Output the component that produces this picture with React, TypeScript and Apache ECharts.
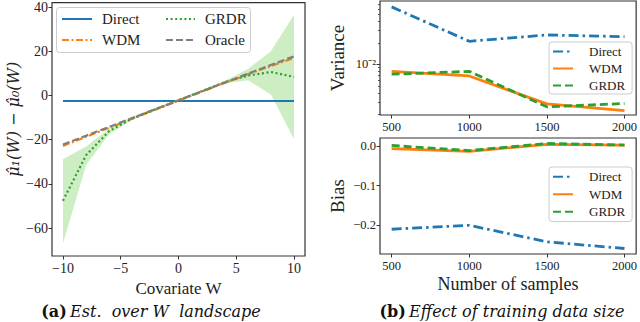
import React, { useEffect, useRef } from 'react';
import * as echarts from 'echarts';

// ---- Panel (a): estimate over W landscape ----
const covariateW = [-10, -8, -6, -4, -2, 0, 2, 4, 6, 8, 10];
const directEst = [-2.5, -2.5, -2.5, -2.5, -2.5, -2.5, -2.5, -2.5, -2.5, -2.5, -2.5];
const wdmEst = [-22.8, -18.7, -14.6, -10.5, -6.4, -2.3, 1.7, 5.7, 9.6, 13.3, 17.0];
const grdrEst = [-47.6, -27.0, -16.1, -10.4, -6.3, -2.2, 1.9, 6.0, 9.0, 10.6, 8.4];
const oracleEst = [-22.2, -18.2, -14.2, -10.2, -6.2, -2.2, 1.8, 5.8, 9.8, 13.8, 17.7];
const grdrLower = [-67.0, -31.5, -17.5, -11.0, -6.8, -2.6, 1.5, 5.4, 6.9, 0.4, -19.8];
const grdrUpper = [-28.8, -23.1, -15.0, -9.6, -5.7, -1.8, 2.3, 6.6, 12.0, 20.0, 36.5];
const leftXTicks = [-10, -5, 0, 5, 10];
const leftYTicks = [-60, -40, -20, 0, 20, 40];

// ---- Panel (b): effect of training data size ----
const sampleSizes = [500, 1000, 1500, 2000];
const varDirect = [0.064, 0.0211, 0.0259, 0.0245];
const varWDM = [0.008, 0.0069, 0.0028, 0.00225];
const varGRDR = [0.0073, 0.008, 0.00255, 0.00284];
const biasDirect = [-0.211, -0.201, -0.243, -0.26];
const biasWDM = [-0.006, -0.013, 0.005, 0.003];
const biasGRDR = [0.002, -0.011, 0.007, 0.003];
const sampleTicks = [500, 1000, 1500, 2000];
const varMajorTicks = [0.01];
const varMinorTicks = [0.002, 0.003, 0.004, 0.005, 0.006, 0.007, 0.008, 0.009, 0.02, 0.03, 0.04, 0.05, 0.06, 0.07];
const biasTicks = [-0.2, -0.1, 0.0];

const SERIF = 'Liberation Serif';
const CAPTION_FONT = 'DejaVu Serif';
const BLUE = '#1f77b4';
const ORANGE = '#ff7f0e';
const GREEN = '#2ca02c';
const GRAY = '#7f7f7f';

const pairs = (xs: number[], ys: number[]) => xs.map((x, i) => [x, ys[i]]);
const minus = (s: string) => s.replace('-', '\u2212');

export default function App() {
  const ref = useRef<HTMLDivElement>(null);

  useEffect(() => {
    if (!ref.current) return;
    const chart = echarts.init(ref.current, null, { renderer: 'svg' });

    const frame = { show: true, borderColor: '#333', borderWidth: 1.2, backgroundColor: 'transparent' };
    const tickStyle = { show: true, inside: false, length: 3.5, lineStyle: { color: '#333', width: 1 } };
    const noLine = { show: false, onZero: false };

    const legendCommon = {
      orient: 'vertical', selectedMode: false,
      itemStyle: { opacity: 0 },
    };

    const option: any = {
      animation: false,
      backgroundColor: '#fff',
      textStyle: { fontFamily: SERIF },
      grid: [
        { left: 52, top: 2, width: 253, height: 254, ...frame },
        { left: 380, top: 1, width: 258, height: 114, ...frame },
        { left: 380, top: 138, width: 258, height: 116, ...frame },
      ],
      xAxis: [
        {
          gridIndex: 0, type: 'value', min: -10.95, max: 10.95,
          axisLine: noLine, splitLine: { show: false },
          axisTick: { ...tickStyle, customValues: leftXTicks },
          axisLabel: { customValues: leftXTicks, fontFamily: SERIF, fontSize: 14, color: '#222', margin: 5,
            formatter: (v: number) => minus(String(v)) },
          name: 'Covariate W', nameLocation: 'middle', nameGap: 20,
          nameTextStyle: { fontFamily: SERIF, fontSize: 17, color: '#222' },
        },
        {
          gridIndex: 1, type: 'value', min: 425, max: 2075,
          axisLine: noLine, splitLine: { show: false },
          axisTick: { ...tickStyle, customValues: sampleTicks },
          axisLabel: { customValues: sampleTicks, fontFamily: SERIF, fontSize: 12.5, color: '#222', margin: 5,
            formatter: (v: number) => String(v) },
        },
        {
          gridIndex: 2, type: 'value', min: 425, max: 2075,
          axisLine: noLine, splitLine: { show: false },
          axisTick: { ...tickStyle, customValues: sampleTicks },
          axisLabel: { customValues: sampleTicks, fontFamily: SERIF, fontSize: 12.5, color: '#222', margin: 5,
            formatter: (v: number) => String(v) },
          name: 'Number of samples', nameLocation: 'middle', nameGap: 21,
          nameTextStyle: { fontFamily: SERIF, fontSize: 18, color: '#222' },
        },
      ],
      yAxis: [
        {
          gridIndex: 0, type: 'value', min: -72.6, max: 42,
          axisLine: noLine, splitLine: { show: false },
          axisTick: { ...tickStyle, customValues: leftYTicks },
          axisLabel: { customValues: leftYTicks, fontFamily: SERIF, fontSize: 14, color: '#222', margin: 4,
            formatter: (v: number) => minus(String(v)) },
          name: 'μ̂₁(W) − μ̂₀(W)', nameLocation: 'middle', nameGap: 31,
          nameTextStyle: { fontFamily: 'DejaVu Serif', fontSize: 16, fontStyle: 'italic', color: '#222', padding: [0, 0, 0, 20] },
        },
        {
          gridIndex: 1, type: 'log', logBase: 10, min: 0.00196, max: 0.0774, position: 'left',
          axisLine: noLine, splitLine: { show: false },
          axisTick: { ...tickStyle, customValues: varMajorTicks },
          axisLabel: { customValues: varMajorTicks, fontFamily: SERIF, fontSize: 12.5, color: '#222', margin: 4,
            formatter: () => '10⁻²' },
          name: 'Variance', nameLocation: 'middle', nameGap: 33,
          nameTextStyle: { fontFamily: SERIF, fontSize: 19, color: '#222' },
        },
        {
          gridIndex: 1, type: 'log', logBase: 10, min: 0.00196, max: 0.0774, position: 'left', offset: 0,
          axisLine: noLine, splitLine: { show: false },
          axisTick: { show: true, inside: false, length: 2, lineStyle: { color: '#333', width: 0.8 }, customValues: varMinorTicks },
          axisLabel: { show: false },
        },
        {
          gridIndex: 2, type: 'value', min: -0.274, max: 0.021,
          axisLine: noLine, splitLine: { show: false },
          axisTick: { ...tickStyle, customValues: biasTicks },
          axisLabel: { customValues: biasTicks, fontFamily: SERIF, fontSize: 12.5, color: '#222', margin: 4,
            formatter: (v: number) => minus(v.toFixed(1)) },
          name: 'Bias', nameLocation: 'middle', nameGap: 33,
          nameTextStyle: { fontFamily: SERIF, fontSize: 19, color: '#222' },
        },
      ],
      legend: [
        {
          ...legendCommon, left: 61, top: 9, padding: 0,
          itemWidth: 30, itemHeight: 12, itemGap: 1,
          data: ['Direct', 'WDM'],
          textStyle: { fontFamily: SERIF, fontSize: 15, color: '#222', lineHeight: 20, padding: [0, 0, 0, 5] },
        },
        {
          ...legendCommon, left: 165, top: 9, padding: 0,
          itemWidth: 29, itemHeight: 12, itemGap: 1,
          data: ['GRDR', 'Oracle'],
          textStyle: { fontFamily: SERIF, fontSize: 15, color: '#222', lineHeight: 20, padding: [0, 0, 0, 5] },
        },
        {
          ...legendCommon, left: 549, top: 42, padding: [1, 7, 0, 3],
          itemWidth: 20, itemHeight: 10, itemGap: 0,
          borderColor: '#cccccc', borderWidth: 1, borderRadius: 3, backgroundColor: 'rgba(255,255,255,0.85)',
          data: ['Direct ', 'WDM ', 'GRDR '],
          formatter: (n: string) => n.trim(),
          textStyle: { fontFamily: SERIF, fontSize: 13, color: '#222', lineHeight: 17, padding: [0, 0, 0, 11] },
        },
        {
          ...legendCommon, left: 549, top: 167, padding: [1, 7, 1, 3],
          itemWidth: 20, itemHeight: 10, itemGap: 0,
          borderColor: '#cccccc', borderWidth: 1, borderRadius: 3, backgroundColor: 'rgba(255,255,255,0.85)',
          data: ['Direct ', 'WDM ', 'GRDR '],
          formatter: (n: string) => n.trim(),
          textStyle: { fontFamily: SERIF, fontSize: 13, color: '#222', lineHeight: 17.5, padding: [0, 0, 0, 11] },
        },
      ],
      graphic: [
        {
          type: 'rect', left: 56, top: 7, z: 3, silent: true,
          shape: { width: 194, height: 45, r: 3 },
          style: { fill: 'rgba(255,255,255,0.85)', stroke: '#cccccc', lineWidth: 1 },
        },
        {
          type: 'text', x: 151, y: 311, z: 5,
          style: {
            text: '{b|(a)} {i|Est.  over W  landscape}',
            align: 'center', verticalAlign: 'middle',
            rich: {
              b: { fontFamily: CAPTION_FONT, fontSize: 16, fontWeight: 'bold', fill: '#111' },
              i: { fontFamily: CAPTION_FONT, fontSize: 16, fontStyle: 'italic', fill: '#111' },
            },
          },
        },
        {
          type: 'text', x: 502, y: 311, z: 5,
          style: {
            text: '{b|(b)} {i|Effect of training data size}',
            align: 'center', verticalAlign: 'middle',
            rich: {
              b: { fontFamily: CAPTION_FONT, fontSize: 16, fontWeight: 'bold', fill: '#111' },
              i: { fontFamily: CAPTION_FONT, fontSize: 16, fontStyle: 'italic', fill: '#111' },
            },
          },
        },
      ],
      series: [
        // confidence band for GRDR (panel a), drawn through the axis scales
        {
          type: 'custom', xAxisIndex: 0, yAxisIndex: 0, silent: true, z: 1,
          data: covariateW.map((x, i) => [x, grdrLower[i], grdrUpper[i]]),
          renderItem: (params: any, api: any) => {
            if (params.dataIndex !== 0) return null;
            const upper = covariateW.map((x, i) => api.coord([x, grdrUpper[i]]));
            const lower = covariateW.map((x, i) => api.coord([x, grdrLower[i]])).reverse();
            return {
              type: 'polygon',
              shape: { points: upper.concat(lower) },
              style: { fill: '#cdeec3', stroke: 'none' },
            };
          },
        },
        {
          name: 'Direct', type: 'line', xAxisIndex: 0, yAxisIndex: 0, data: pairs(covariateW, directEst),
          symbol: 'none', color: BLUE, lineStyle: { color: BLUE, width: 2.2 }, z: 2,
        },
        {
          name: 'WDM', type: 'line', xAxisIndex: 0, yAxisIndex: 0, data: pairs(covariateW, wdmEst),
          symbol: 'none', color: ORANGE, lineStyle: { color: ORANGE, width: 2.2, type: [7, 2.5, 2, 2.5] }, z: 2,
        },
        {
          name: 'GRDR', type: 'line', xAxisIndex: 0, yAxisIndex: 0, data: pairs(covariateW, grdrEst),
          symbol: 'none', color: GREEN, lineStyle: { color: GREEN, width: 2.2, type: [2, 2.6] }, z: 2,
        },
        {
          name: 'Oracle', type: 'line', xAxisIndex: 0, yAxisIndex: 0, data: pairs(covariateW, oracleEst),
          symbol: 'none', color: GRAY, lineStyle: { color: GRAY, width: 2.2, type: [7, 3] }, z: 2,
        },
        // panel b: variance
        {
          name: 'Direct ', type: 'line', xAxisIndex: 1, yAxisIndex: 1, data: pairs(sampleSizes, varDirect),
          symbol: 'none', color: BLUE, lineStyle: { color: BLUE, width: 2.8, type: [10, 4, 2.5, 4] },
        },
        {
          name: 'WDM ', type: 'line', xAxisIndex: 1, yAxisIndex: 1, data: pairs(sampleSizes, varWDM),
          symbol: 'none', color: ORANGE, lineStyle: { color: ORANGE, width: 2.8 },
        },
        {
          name: 'GRDR ', type: 'line', xAxisIndex: 1, yAxisIndex: 1, data: pairs(sampleSizes, varGRDR),
          symbol: 'none', color: GREEN, lineStyle: { color: GREEN, width: 2.8, type: [8, 4] },
        },
        // panel b: bias
        {
          name: 'Direct ', type: 'line', xAxisIndex: 2, yAxisIndex: 3, data: pairs(sampleSizes, biasDirect),
          symbol: 'none', color: BLUE, lineStyle: { color: BLUE, width: 2.8, type: [10, 4, 2.5, 4] },
        },
        {
          name: 'WDM ', type: 'line', xAxisIndex: 2, yAxisIndex: 3, data: pairs(sampleSizes, biasWDM),
          symbol: 'none', color: ORANGE, lineStyle: { color: ORANGE, width: 2.8 },
        },
        {
          name: 'GRDR ', type: 'line', xAxisIndex: 2, yAxisIndex: 3, data: pairs(sampleSizes, biasGRDR),
          symbol: 'none', color: GREEN, lineStyle: { color: GREEN, width: 2.8, type: [8, 4] },
        },
      ],
    };

    chart.setOption(option);
    return () => chart.dispose();
  }, []);

  return (
    <div
      ref={ref}
      style={{ position: 'fixed', left: 0, top: 0, width: 640, height: 322, background: '#fff' }}
    />
  );
}
